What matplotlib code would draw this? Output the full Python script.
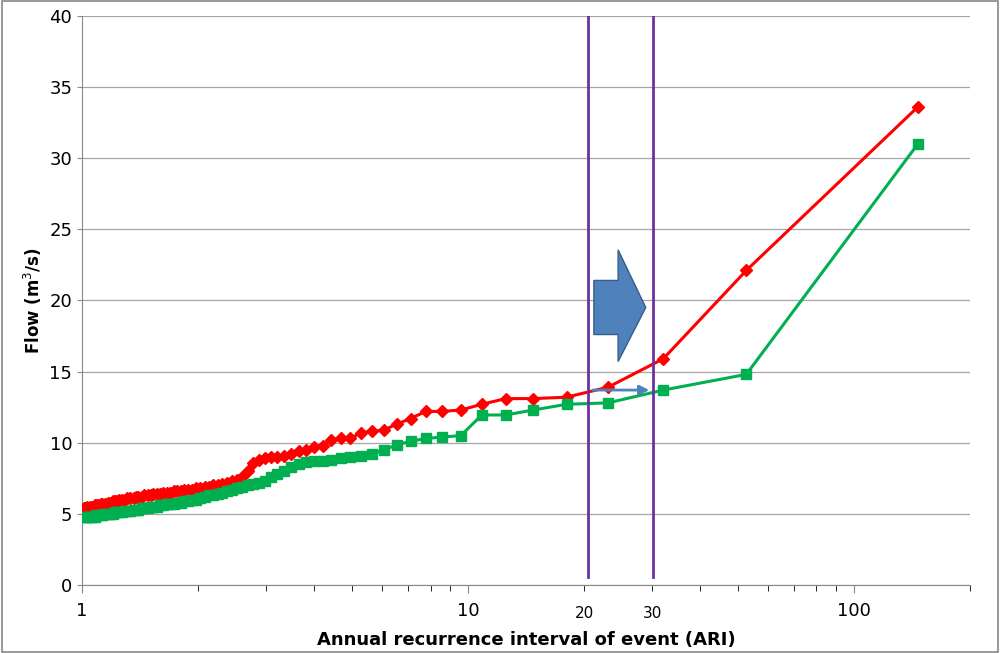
import numpy as np
import matplotlib.pyplot as plt
from matplotlib.patches import Polygon, Rectangle
from matplotlib.ticker import FixedLocator, NullFormatter

# annual recurrence interval of each ranked event
ari = [146.64, 52.64, 32.08, 23.07, 18.01, 14.77, 12.52, 10.86, 9.59, 8.59,
       7.78, 7.10, 6.54, 6.06, 5.64, 5.28, 4.96, 4.68, 4.42, 4.20,
       3.99, 3.81, 3.64, 3.49, 3.34, 3.21, 3.09, 2.98, 2.88, 2.78,
       2.69, 2.60, 2.52, 2.45, 2.38, 2.31, 2.25, 2.19, 2.13, 2.08,
       2.02, 1.98, 1.93, 1.88, 1.84, 1.80, 1.76, 1.73, 1.69, 1.66,
       1.62, 1.59, 1.56, 1.53, 1.51, 1.48, 1.45, 1.43, 1.40, 1.38,
       1.36, 1.33, 1.31, 1.29, 1.27, 1.25, 1.23, 1.22, 1.20, 1.18,
       1.17, 1.15, 1.13, 1.12, 1.10, 1.09, 1.08, 1.06, 1.05, 1.03,
       1.02, 1.01]

flow_red = [33.6, 22.1, 15.9, 13.9, 13.2, 13.1, 13.1, 12.7, 12.3, 12.2,
            12.2, 11.7, 11.3, 10.9, 10.8, 10.7, 10.3, 10.3, 10.2, 9.8,
            9.7, 9.5, 9.4, 9.2, 9.1, 9.0, 9.0, 8.9, 8.8, 8.6,
            8.0, 7.6, 7.4, 7.3, 7.2, 7.1, 7.0, 7.0, 6.9, 6.9,
            6.8, 6.8, 6.7, 6.7, 6.7, 6.6, 6.6, 6.6, 6.5, 6.5,
            6.5, 6.4, 6.4, 6.4, 6.3, 6.3, 6.3, 6.2, 6.2, 6.2,
            6.1, 6.1, 6.1, 6.0, 6.0, 6.0, 5.9, 5.9, 5.9, 5.8,
            5.8, 5.7, 5.7, 5.7, 5.6, 5.6, 5.6, 5.5, 5.5, 5.5,
            5.4, 5.4]

flow_green = [31.0, 14.8, 13.7, 12.8, 12.7, 12.3, 11.95, 11.95, 10.5, 10.4,
              10.3, 10.1, 9.85, 9.5, 9.2, 9.1, 9.0, 8.9, 8.8, 8.75,
              8.7, 8.65, 8.5, 8.3, 8.0, 7.8, 7.6, 7.3, 7.2, 7.1,
              7.0, 6.9, 6.8, 6.7, 6.6, 6.5, 6.4, 6.35, 6.3, 6.2,
              6.1, 6.0, 6.0, 5.9, 5.9, 5.8, 5.8, 5.7, 5.7, 5.7,
              5.6, 5.6, 5.5, 5.5, 5.5, 5.4, 5.4, 5.4, 5.3, 5.3,
              5.3, 5.2, 5.2, 5.2, 5.1, 5.1, 5.1, 5.1, 5.0, 5.0,
              5.0, 5.0, 4.9, 4.9, 4.9, 4.9, 4.8, 4.8, 4.8, 4.8,
              4.8, 4.8]

vlines = [20.5, 30.2]

fig = plt.figure(figsize=(10, 6.53), dpi=100)
fig.patches.append(Rectangle((0.002, 0.002), 0.996, 0.996, transform=fig.transFigure,
                             fill=False, edgecolor='#888888', lw=1.2))
ax = fig.add_axes([0.082, 0.104, 0.888, 0.872])

ax.plot(ari, flow_red, color='#ff0000', lw=2.2, marker='D', ms=6, zorder=3)
ax.plot(ari, flow_green, color='#00b050', lw=2.2, marker='s', ms=7, zorder=3)

for v in vlines:
    ax.axvline(v, color='#7030a0', lw=2, ymin=0.014, ymax=1.0, zorder=4)

# big block arrow
arrow = [(21.2, 21.4), (24.5, 21.4), (24.5, 23.55), (28.9, 19.5),
         (24.5, 15.7), (24.5, 17.6), (21.2, 17.6)]
ax.add_patch(Polygon(arrow, closed=True, facecolor='#4f81bd', edgecolor='#385d8a', lw=1, zorder=5))
# small arrow between the lines
ax.annotate('', xy=(30.0, 13.7), xytext=(20.7, 13.7),
            arrowprops=dict(arrowstyle='-|>', color='#4f81bd', lw=2, mutation_scale=14), zorder=5)

ax.set_xscale('log')
ax.set_xlim(1, 200)
ax.set_ylim(0, 40)
ax.set_yticks(range(0, 41, 5))
ax.xaxis.set_major_locator(FixedLocator([1, 10, 100]))
ax.set_xticklabels(['1', '10', '100'])
ax.xaxis.set_minor_formatter(NullFormatter())
ax.grid(axis='y', color='#a6a6a6', lw=0.9)
ax.set_axisbelow(True)
for s in ['top', 'right']:
    ax.spines[s].set_visible(False)
for s in ['left', 'bottom']:
    ax.spines[s].set_color('#888888')
ax.tick_params(labelsize=13, color='#888888')
ax.tick_params(axis='x', which='major', length=6, pad=6)
ax.tick_params(axis='x', which='minor', length=4)
for v, t in zip([20, 30], ['20', '30']):
    ax.text(v, -1.5, t, ha='center', va='top', fontsize=11)

ax.set_xlabel('Annual recurrence interval of event (ARI)', fontsize=13, fontweight='bold', labelpad=8)
ax.set_ylabel('Flow (m$^3$/s)', fontsize=12, fontweight='bold')

fig.savefig('out.png')
